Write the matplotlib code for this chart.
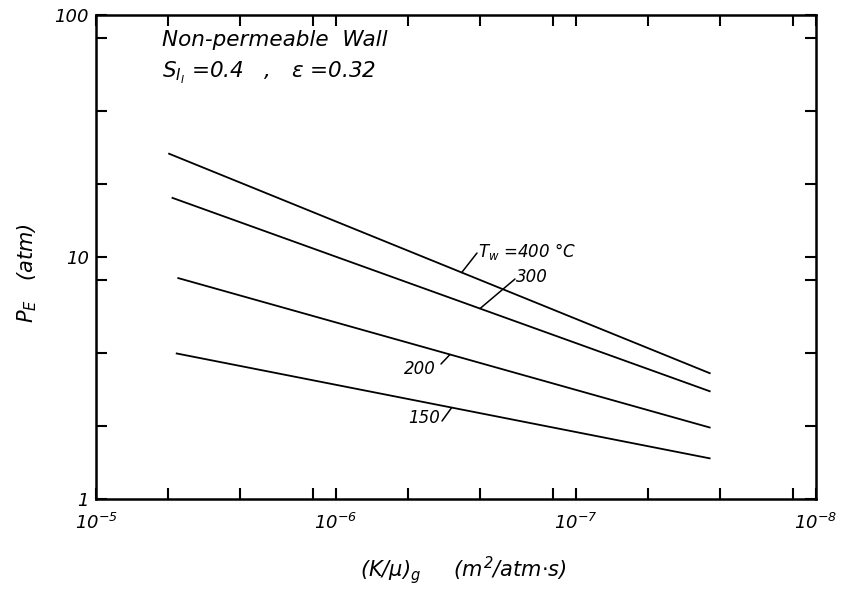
import numpy as np
import matplotlib
matplotlib.use("Agg")
import matplotlib.pyplot as plt

# Wall temperatures (°C) and the end points of each straight log-log line
temps = [400, 300, 200, 150]
perm_start = [5.0e-6, 4.84e-6, 4.58e-6, 4.65e-6]   # (K/mu)_g, m^2/(atm s)
perm_end = [2.75e-8, 2.75e-8, 2.75e-8, 2.75e-8]
pe_start = [26.8, 17.6, 8.2, 4.0]                   # P_E, atm
pe_end = [3.3, 2.78, 1.97, 1.47]

x_major = [1e-5, 1e-6, 1e-7, 1e-8]
x_major_labels = [r"$10^{-5}$", r"$10^{-6}$", r"$10^{-7}$", r"$10^{-8}$"]
x_minor = [5e-6, 2.5e-6, 1.25e-6, 5e-7, 2.5e-7, 1.25e-7, 5e-8, 2.5e-8, 1.25e-8]
y_major = [1, 10, 100]
y_major_labels = ["1", "10", "100"]
y_minor = [2, 4, 8, 20, 40, 80]

plt.rcParams["font.family"] = ["DejaVu Sans"]
plt.rcParams["font.style"] = "italic"
plt.rcParams["mathtext.fontset"] = "dejavusans"
plt.rcParams["mathtext.default"] = "it"

W, H = 853, 590
fig = plt.figure(figsize=(W / 100, H / 100), dpi=100)
L, R, T, B = 96, 816, 15, 499
ax = fig.add_axes([L / W, 1 - B / H, (R - L) / W, (B - T) / H])

for i in range(len(temps)):
    ax.plot([perm_start[i], perm_end[i]], [pe_start[i], pe_end[i]],
            color="black", lw=1.3, solid_capstyle="butt")

ax.set_xscale("log")
ax.set_yscale("log")
ax.set_xlim(1e-5, 1e-8)
ax.set_ylim(1, 100)

ax.set_xticks(x_major)
ax.set_xticklabels(x_major_labels)
ax.set_xticks(x_minor, minor=True)
ax.set_xticklabels([], minor=True)
ax.set_yticks(y_major)
ax.set_yticklabels(y_major_labels)
ax.set_yticks(y_minor, minor=True)
ax.set_yticklabels([], minor=True)

ax.tick_params(which="both", direction="in", top=True, right=True,
               length=8, width=1.5, labelsize=13)
ax.tick_params(axis="x", which="major", pad=10)
ax.tick_params(axis="y", which="major", pad=5)
for s in ax.spines.values():
    s.set_linewidth(1.8)


def frac(px, py):
    return (px - L) / (R - L), (B - py) / (B - T)


def on_line(i, px):
    # point on line i at a given horizontal pixel position
    lx = -5 - (px - L) / 240.0
    x0, x1 = np.log10(perm_start[i]), np.log10(perm_end[i])
    y0, y1 = np.log10(pe_start[i]), np.log10(pe_end[i])
    t = (lx - x0) / (x1 - x0)
    return 10 ** lx, 10 ** (y0 + t * (y1 - y0))


# curve labels with leader lines
labels = [r"$T_w$ =400 °C", "300", "200", "150"]
text_pos = [(478, 252), (516, 277), (404, 369), (408, 418)]
lead_from = [(477, 253), (515, 279), (441, 364), (442, 421)]
lead_to_px = [461.7, 480, 450, 451.7]
for i in range(len(temps)):
    xy = on_line(i, lead_to_px[i])
    ax.annotate("", xy=xy, xycoords="data",
                xytext=frac(*lead_from[i]), textcoords="axes fraction",
                arrowprops=dict(arrowstyle="-", lw=1.1, color="black",
                                shrinkA=0, shrinkB=0))
    ax.text(*frac(*text_pos[i]), labels[i], transform=ax.transAxes,
            ha="left", va="center", fontsize=12)

ax.text(*frac(162, 40), "Non-permeable  Wall", transform=ax.transAxes,
        ha="left", va="center", fontsize=15.5)
ax.text(*frac(162, 73), r"$S_{I_I}$ =0.4   ,   $\varepsilon$ =0.32",
        transform=ax.transAxes, ha="left", va="center", fontsize=15.5)

fig.text(463 / W, 1 - 570 / H, r"$(K/\mu)_g$     $(m^2/atm{\cdot}s)$",
         ha="center", va="center", fontsize=15)
fig.text(27 / W, 1 - 273 / H, r"$P_E$   $(atm)$", rotation=90,
         ha="center", va="center", fontsize=15)

fig.savefig("out.png", dpi=100)
